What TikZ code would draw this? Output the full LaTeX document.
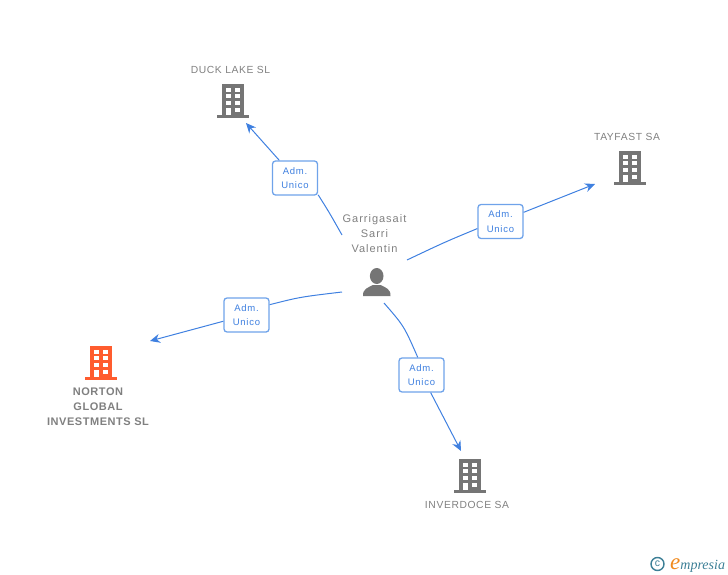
\documentclass[tikz,border=0pt]{standalone}
\usepackage{fontspec}
\usepackage{xcolor}
\usetikzlibrary{arrows.meta,calc}
\setmainfont{Liberation Sans}
\newfontfamily\namefont[LetterSpace=6]{Liberation Sans}
\newfontfamily\personfont[LetterSpace=9]{Liberation Sans}
\newfontfamily\boxfont[LetterSpace=8]{Liberation Sans}
\newfontfamily\logofont{Liberation Serif}
\definecolor{greyicon}{HTML}{757575}
\definecolor{greytext}{HTML}{808080}
\definecolor{orangeicon}{HTML}{FF5C2E}
\definecolor{bluelink}{HTML}{3F80E0}
\definecolor{blueedge}{HTML}{6FA3EA}
\definecolor{tealLogo}{HTML}{3C7F96}
\definecolor{orangeLogo}{HTML}{F08A1E}

\begin{document}
\begin{tikzpicture}[x=1pt,y=-1pt]
\tikzset{
	company node/.style = {text = greytext, font = \namefont\fontsize{10.3}{15}\selectfont, align = center, inner sep = 0},
	main node/.style = {text = greytext, font = \bfseries\addfontfeature{LetterSpace=5}\fontsize{11}{15}\selectfont, align = center, inner sep = 0},
	person node/.style = {text = greytext, font = \personfont\fontsize{11}{15}\selectfont, align = center, inner sep = 0},
	role node/.style = {draw = blueedge, line width = 1.3, fill = white, rounded corners = 3, text = bluelink, font = \boxfont\fontsize{9.5}{14.5}\selectfont, align = center, inner sep = 0, minimum width = 45, minimum height = 34},
	link/.style = {draw = bluelink, line width = 1},
	link tip/.style = {link, -{Stealth[length = 10, width = 9]}},
	pics/building/.style = {code = {
		\fill[#1] (-11,-34) rectangle (11,-3);
		\fill[#1] (-16,-3) rectangle (16,0);
		\foreach \col in {-7,2.3} \foreach \row in {-30.3,-23.7,-17} {
			\fill[white] (\col,\row) rectangle ++(4.5,4);
		}
		\fill[white] (-7,-10.3) rectangle ++(4.5,7.3);
		\fill[white] (2.3,-10.3) rectangle ++(4.5,4);
	}},
	pics/person/.style = {code = {
		\fill[#1] (-0.3,-20) ellipse (6.8 and 8);
		\fill[#1] (-14,0) .. controls (-14.5,-7) and (-9,-8.5) .. (-4,-11) -- (3.5,-11) .. controls (8.5,-8.5) and (14,-7) .. (13.5,0) -- cycle;
	}},
}
\useasboundingbox (0,0) rectangle (728,575);

% icons
\pic at (233,118) {building = greyicon};
\pic at (630,185) {building = greyicon};
\pic at (101,380) {building = orangeicon};
\pic at (470,493) {building = greyicon};
\pic at (377,296) {person = greyicon};

% names
\node(duck)[company node] at (230.5,70) {DUCK LAKE SL};
\node(tayfast)[company node] at (627,137) {TAYFAST SA};
\node(inverdoce)[company node] at (467,505) {INVERDOCE SA};
\node(norton)[main node] at (98,406.5) {NORTON\\GLOBAL\\INVESTMENTS SL};
\node(person)[person node] at (374.5,233.5) {Garrigasait\\Sarri\\Valentin};

% roles
\node(role duck)[role node] at (295,178) {Adm.\\Unico};
\node(role tayfast)[role node] at (500.5,221.5) {Adm.\\Unico};
\node(role norton)[role node] at (246.5,315) {Adm.\\Unico};
\node(role inverdoce)[role node] at (421.5,375) {Adm.\\Unico};

\coordinate (from duck) at (342,235);
\coordinate (from tayfast) at (407,260);
\coordinate (from norton) at (342,292);
\coordinate (from inverdoce) at (384,303);
\coordinate (to duck) at (246,123);
\coordinate (to tayfast) at (595,184);
\coordinate (to norton) at (150,341);
\coordinate (to inverdoce) at (461,451);

\draw [link] (from duck) .. controls (329,212) .. (role duck.-36);
\draw [link tip] (role duck) -- (to duck);
\draw [link] (from tayfast) .. controls (445,242) .. (role tayfast.197);
\draw [link tip] (role tayfast) -- (to tayfast);
\draw [link] (from norton) .. controls (300,297) .. (role norton.24);
\draw [link tip] (role norton) -- (to norton);
\draw [link] (from inverdoce) .. controls (404,326) .. (role inverdoce.102);
\draw [link tip] (role inverdoce) -- (to inverdoce);

% logo
\node(copyright)[circle, draw = tealLogo, line width = 1.4, text = tealLogo, inner sep = 0, minimum size = 13, font = \fontsize{10.5}{10.5}\selectfont] at (657.5,564) {c};
\node(logo)[anchor = base west, inner sep = 0, font = \logofont\itshape] at (670,569) {\textcolor{orangeLogo}{\fontsize{23}{23}\selectfont e}\textcolor{tealLogo}{\fontsize{14}{14}\selectfont mpresia}};
\end{tikzpicture}
\end{document}
